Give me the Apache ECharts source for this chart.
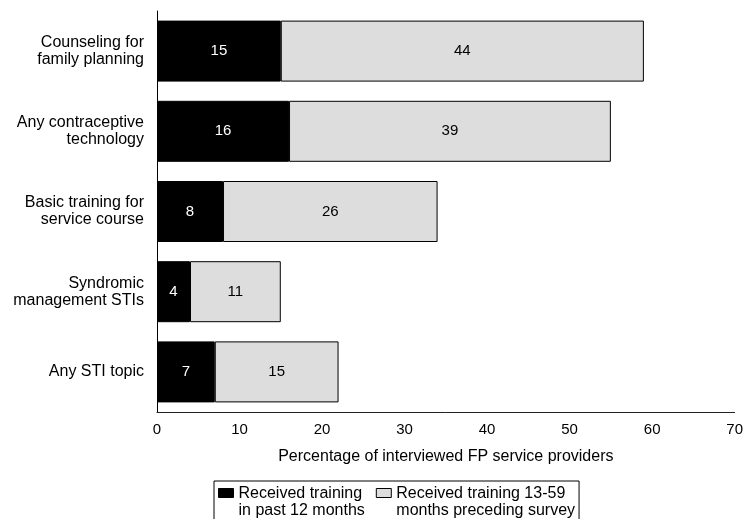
<!DOCTYPE html>
<html>
<head>
<meta charset="utf-8">
<script src="https://cdn.jsdelivr.net/npm/echarts@6/dist/echarts.min.js"></script>
<style>
html,body{margin:0;padding:0;background:#fff;}
#chart{width:746px;height:519px;}
</style>
</head>
<body>
<div id="chart"></div>
<script>
const categories = [
  'Counseling for\nfamily planning',
  'Any contraceptive\ntechnology',
  'Basic training for\nservice course',
  'Syndromic\nmanagement STIs',
  'Any STI topic'
];
const past12Months = [15, 16, 8, 4, 7];
const months13to59 = [44, 39, 26, 11, 15];
const seriesNames = ['Received training\nin past 12 months', 'Received training 13-59\nmonths preceding survey'];
const xTicks = { min: 0, max: 70, interval: 10 };
const xTitle = 'Percentage of interviewed FP service providers';

const FONT = 'Liberation Sans, Arial, sans-serif';
const chart = echarts.init(document.getElementById('chart'), null, { renderer: 'canvas' });
const iconPath = 'path://M0,0H15V9H0Z M0,27L0.01,27';

chart.setOption({
  animation: false,
  backgroundColor: '#fff',
  textStyle: { fontFamily: FONT },
  grid: { left: 157, right: 9, top: 11, bottom: 107, containLabel: false },
  legend: {
    left: 214, top: 481,
    padding: [4, 4, 20, 4],
    borderColor: '#000', borderWidth: 1,
    itemWidth: 15, itemHeight: 27, itemGap: 11,
    selectedMode: false,
    textStyle: { fontFamily: FONT, fontSize: 16, lineHeight: 17, color: '#000' },
    data: [
      { name: seriesNames[0], icon: iconPath, itemStyle: { color: '#000', borderColor: '#000', borderWidth: 1 } },
      { name: seriesNames[1], icon: iconPath, itemStyle: { color: '#dddddd', borderColor: '#000', borderWidth: 1 } }
    ]
  },
  xAxis: {
    type: 'value',
    min: xTicks.min, max: xTicks.max, interval: xTicks.interval,
    name: xTitle,
    nameLocation: 'middle',
    nameGap: 37,
    nameTextStyle: { fontFamily: FONT, fontSize: 16, color: '#000' },
    axisLine: { show: true, lineStyle: { color: '#222', width: 1 } },
    axisTick: { show: false },
    splitLine: { show: false },
    axisLabel: { fontFamily: FONT, fontSize: 15, color: '#000', margin: 10 }
  },
  yAxis: {
    type: 'category',
    inverse: true,
    data: categories,
    axisLine: { show: true, lineStyle: { color: '#000', width: 1 } },
    axisTick: { show: false },
    splitLine: { show: false },
    axisLabel: { fontFamily: FONT, fontSize: 16, lineHeight: 17, color: '#000', margin: 13, align: 'right' }
  },
  series: [
    {
      name: seriesNames[0],
      type: 'bar',
      stack: 'total',
      barWidth: 61,
      data: past12Months,
      itemStyle: { color: '#000', borderColor: '#000', borderWidth: 1 },
      label: { show: true, position: 'inside', color: '#fff', fontFamily: FONT, fontSize: 15 }
    },
    {
      name: seriesNames[1],
      type: 'bar',
      stack: 'total',
      barWidth: 61,
      data: months13to59,
      itemStyle: { color: '#dddddd', borderColor: '#000', borderWidth: 1 },
      label: { show: true, position: 'inside', color: '#000', fontFamily: FONT, fontSize: 15 }
    }
  ]
});
</script>
</body>
</html>
